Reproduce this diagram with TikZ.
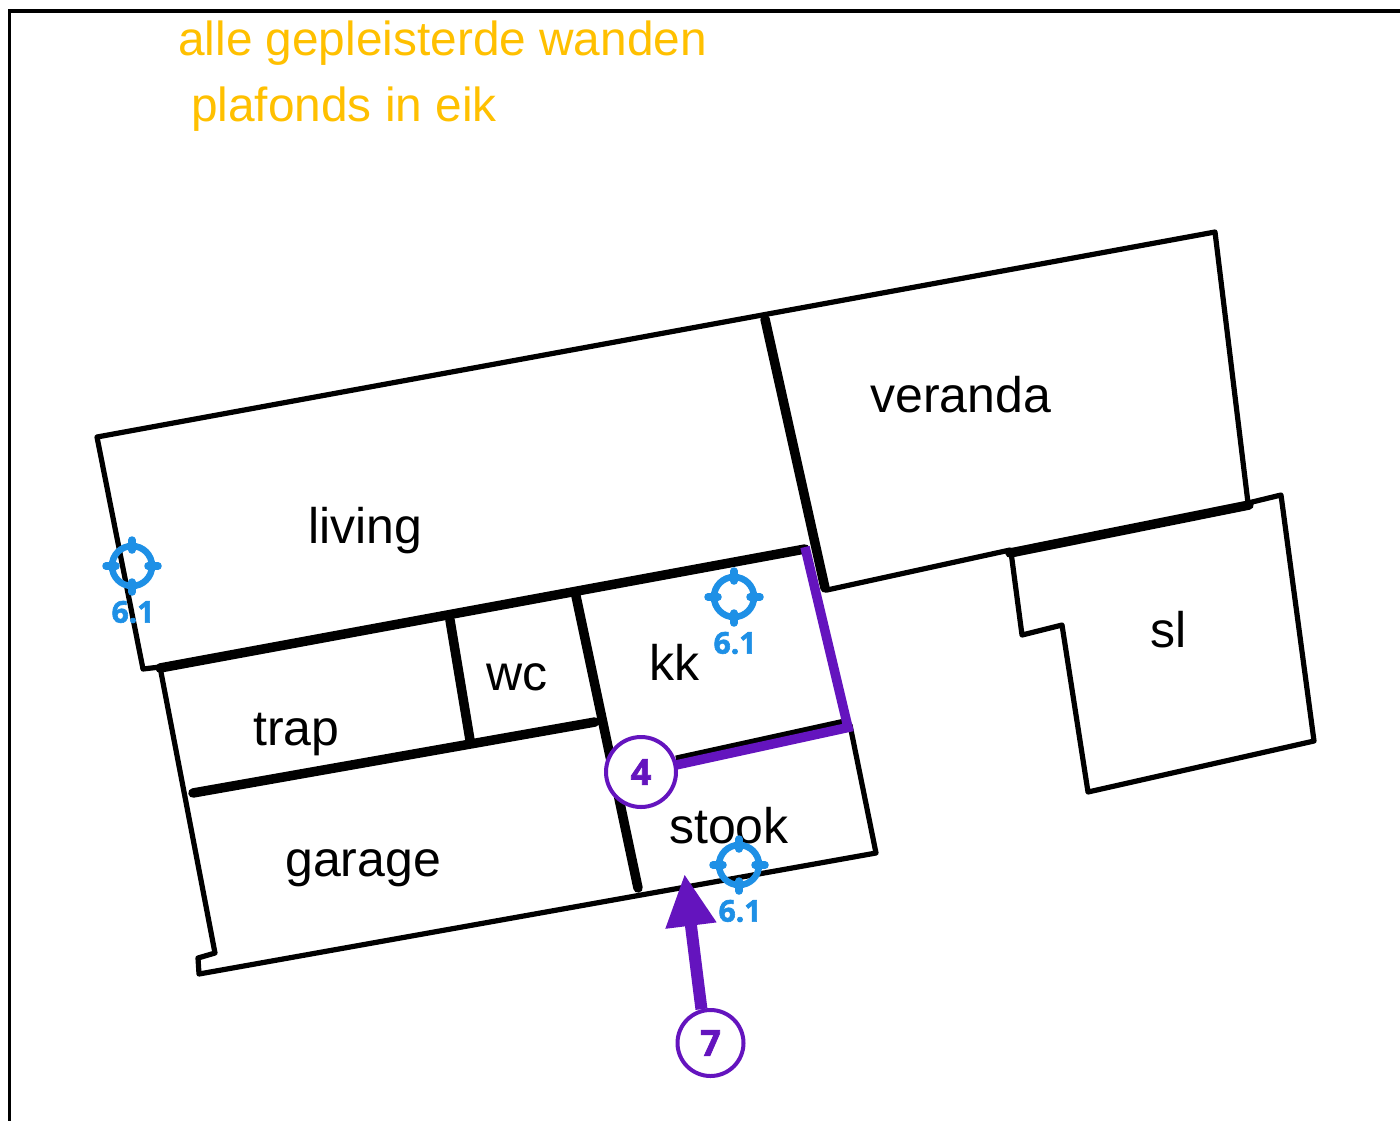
\documentclass[tikz,border=0pt]{standalone}
\usepackage{fontspec}
\setmainfont{Liberation Sans}
\newfontfamily\markfont[BoldFeatures={FakeBold=2}]{Open Sans}
\usetikzlibrary{arrows.meta}
\definecolor{markpurple}{HTML}{6414BE}
\definecolor{markblue}{HTML}{1E90E6}
\definecolor{noteorange}{HTML}{FFC000}
\tikzset{
  thinwall/.style={draw=black,line width=5.2pt,line join=round,line cap=round},
  thickwall/.style={draw=black,line width=9.5pt,line cap=round},
  markwall/.style={draw=markpurple,line width=9.5pt,line join=miter},
  room/.style={anchor=base west,inner sep=0pt,font=\fontsize{50}{50}\selectfont},
  note/.style={anchor=base west,inner sep=0pt,text=noteorange,font=\fontsize{47.8}{47.8}\selectfont},
  callout/.style={circle,draw=markpurple,fill=white,line width=4pt,inner sep=0pt,text=markpurple,font=\markfont\bfseries\fontsize{36}{36}\selectfont},
  target/.style={draw=markblue,line width=6.5pt},
  targetlabel/.style={inner sep=0pt,text=markblue,font=\markfont\bfseries\fontsize{30}{30}\selectfont},
}
\newcommand{\targetmark}[3]{%
  \begin{scope}[shift={(#1,#2)}]
    \draw[target] (0,0) circle[radius=20];
    \draw[target,line width=7.5pt,line cap=round] (-26,0) -- (-16,0) (16,0) -- (26,0) (0,-26) -- (0,-16) (0,16) -- (0,26);
    \node[targetlabel] at (1,46) {#3};
  \end{scope}}
\begin{document}
\begin{tikzpicture}[x=1pt,y=-1pt]
\useasboundingbox (0,0) rectangle (1400,1120);
\fill[white] (0,0) rectangle (1400,1120);
\begin{scope}
\clip (0,0) rectangle (1400,1120);
\draw[black,line width=3.2pt] (9.5,1125) -- (9.5,11) -- (1405,11);
\end{scope}
\node[note] (n1) at (178,55) {alle gepleisterde wanden};
\node[note] (n2) at (191,121) {plafonds in eik};
% thin outline
\draw[thinwall] (160,667) -- (143,669) -- (97,437) -- (1215,232) -- (1248,503) -- (1281,495) -- (1314,741) -- (1088,792) -- (1062,625) -- (1022,635) -- (1011,552);
\draw[thinwall] (1010,550) -- (827,590);
\draw[thinwall] (160,667) -- (215,953) -- (198,958) -- (199,974) -- (876,853) -- (850,725);
% thick walls
\draw[thickwall] (765,319) -- (825,588);
\draw[thickwall] (1249,505) -- (1010,553);
\draw[thickwall] (160,668) -- (805,549);
\draw[thickwall] (450,620) -- (470,740);
\draw[thickwall] (576,596) -- (638,888);
\draw[thickwall] (193,793) -- (595,722);
\draw[black,line width=7pt] (849,721) -- (676,759);
\draw[markwall] (805,547) -- (848,727.5) -- (676,765);
% callouts
\node[callout,minimum size=70pt] (c4) at (641,772) {4};
\node[callout,minimum size=66pt] (c7) at (710.5,1043) {7};
\coordinate (tip) at (684.5,874);
\draw[draw=markpurple,line width=12pt,-{Triangle[length=52pt,width=48pt]}] (c7.105) -- (tip);
% rooms
\node[room] (living) at (308,543) {living};
\node[room] (veranda) at (870,412) {veranda};
\node[room] (wc) at (486,690) {wc};
\node[room] (kk) at (649,680) {kk};
\node[room] (trap) at (253,745) {trap};
\node[room] (garage) at (285,876) {garage};
\node[room] (stook) at (669,843) {stook};
\node[room] (sl) at (1150,647) {sl};
% targets
\targetmark{132}{566}{6.1}
\targetmark{734}{597}{6.1}
\targetmark{739}{865}{6.1}
\end{tikzpicture}
\end{document}
